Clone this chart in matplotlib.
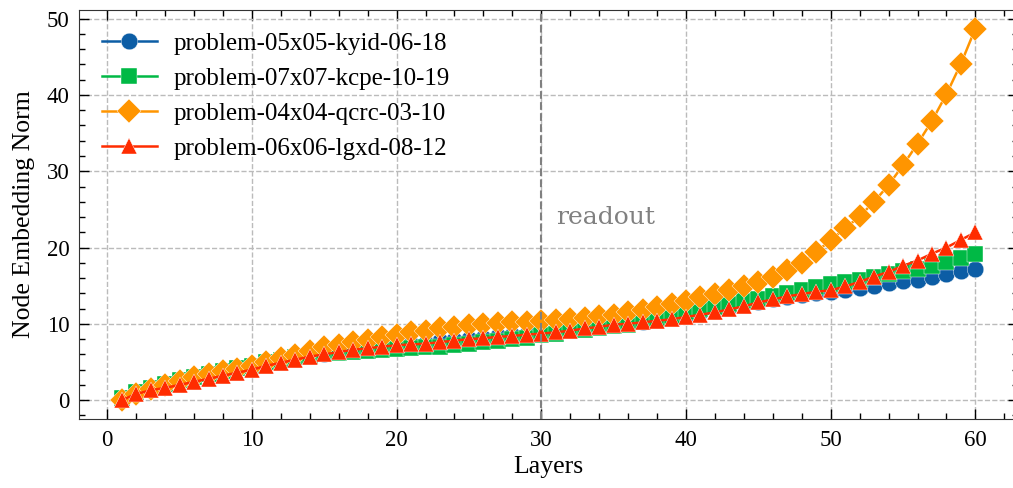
import numpy as np
import matplotlib
matplotlib.use("Agg")
import matplotlib.pyplot as plt

layers = np.arange(1, 61)

labels = ['problem-05x05-kyid-06-18',
          'problem-07x07-kcpe-10-19',
          'problem-04x04-qcrc-03-10',
          'problem-06x06-lgxd-08-12']

blue = [0.2, 0.9, 1.5, 2.0, 2.5, 3.0, 3.4, 3.8, 4.2, 4.6,
        5.0, 5.3, 5.6, 5.9, 6.1, 6.4, 6.6, 6.8, 7.0, 7.2,
        7.3, 7.5, 7.7, 7.9, 8.0, 8.2, 8.4, 8.5, 8.7, 8.8,
        9.0, 9.2, 9.4, 9.6, 9.8, 10.0, 10.2, 10.5, 10.8, 11.1,
        11.5, 11.9, 12.2, 12.6, 12.9, 13.2, 13.5, 13.8, 14.0, 14.2,
        14.4, 14.7, 15.0, 15.3, 15.6, 15.8, 16.2, 16.5, 16.9, 17.2]

green = [0.3, 1.0, 1.6, 2.1, 2.6, 3.0, 3.4, 3.8, 4.2, 4.5,
         5.0, 5.3, 5.6, 5.8, 6.0, 6.2, 6.3, 6.5, 6.6, 6.7,
         6.8, 6.9, 7.0, 7.2, 7.4, 7.6, 7.8, 8.0, 8.2, 8.5,
         8.7, 9.0, 9.2, 9.4, 9.7, 9.9, 10.2, 10.6, 11.0, 11.5,
         11.9, 12.2, 12.6, 13.0, 13.3, 13.6, 14.0, 14.4, 14.8, 15.2,
         15.5, 15.8, 16.1, 16.5, 16.9, 17.2, 17.6, 18.1, 18.6, 19.1]

orange = [0.0, 0.8, 1.4, 2.0, 2.5, 3.0, 3.4, 3.8, 4.1, 4.5,
          5.0, 5.5, 5.9, 6.4, 6.9, 7.2, 7.6, 7.9, 8.3, 8.6,
          8.9, 9.1, 9.4, 9.6, 9.8, 10.0, 10.1, 10.2, 10.3, 10.4,
          10.5, 10.6, 10.8, 11.0, 11.2, 11.5, 11.8, 12.2, 12.6, 13.0,
          13.5, 13.9, 14.4, 14.9, 15.5, 16.2, 17.0, 18.0, 19.4, 21.0,
          22.5, 24.1, 26.0, 28.2, 30.8, 33.6, 36.6, 40.1, 44.1, 48.7]

red = [0.0, 0.8, 1.3, 1.6, 2.0, 2.4, 2.8, 3.2, 3.6, 4.0,
       4.5, 4.9, 5.3, 5.7, 6.0, 6.3, 6.6, 6.8, 7.0, 7.2,
       7.3, 7.4, 7.6, 7.8, 8.0, 8.1, 8.3, 8.4, 8.6, 8.7,
       8.9, 9.1, 9.4, 9.6, 9.9, 10.0, 10.2, 10.4, 10.6, 10.9,
       11.2, 11.5, 11.9, 12.3, 12.8, 13.2, 13.6, 13.9, 14.2, 14.4,
       14.9, 15.5, 16.2, 16.8, 17.6, 18.3, 19.2, 20.0, 21.0, 22.0]

series = [blue, green, orange, red]
colors = ['#0C5DA5', '#00B945', '#FF9500', '#FF2C00']
markers = ['o', 's', 'D', '^']
readout_layer = 30

plt.rcParams['font.family'] = ['Liberation Serif', 'DejaVu Serif']

fig = plt.figure(figsize=(10.13, 4.88), dpi=100)
ax = fig.add_axes([0.078, 0.142, 0.927, 0.8375])

for vals, lab, c, m in zip(series, labels, colors, markers):
    ax.plot(layers, vals, marker=m, color=c, label=lab, lw=1.8, ms=12,
            mec='white', mew=0.3, mfc=c)

ax.axvline(readout_layer, color='gray', ls='--', lw=1.5)
ax.text(readout_layer + 1, 24, 'readout', color='gray', fontsize=18,
        family='DejaVu Serif', va='center')

ax.grid(True, ls='--', color='#bbbbbb', lw=1)
ax.minorticks_on()
ax.tick_params(which='both', direction='in', top=True, right=True, labelsize=16.5)
ax.tick_params(axis='x', which='major', pad=8)
ax.tick_params(axis='y', which='major', pad=7)
ax.tick_params(which='major', length=7, width=1)
ax.tick_params(which='minor', length=4, width=1)
for s in ax.spines.values():
    s.set_color('#333333')

ax.set_xlabel('Layers', fontsize=18.5, labelpad=4)
ax.set_ylabel('Node Embedding Norm', fontsize=18.5, labelpad=8)
ax.legend(loc='upper left', frameon=False, fontsize=18, handlelength=2.2,
          handletextpad=0.7, borderaxespad=0.5, labelspacing=0.5)

fig.savefig('out.png', dpi=100)
